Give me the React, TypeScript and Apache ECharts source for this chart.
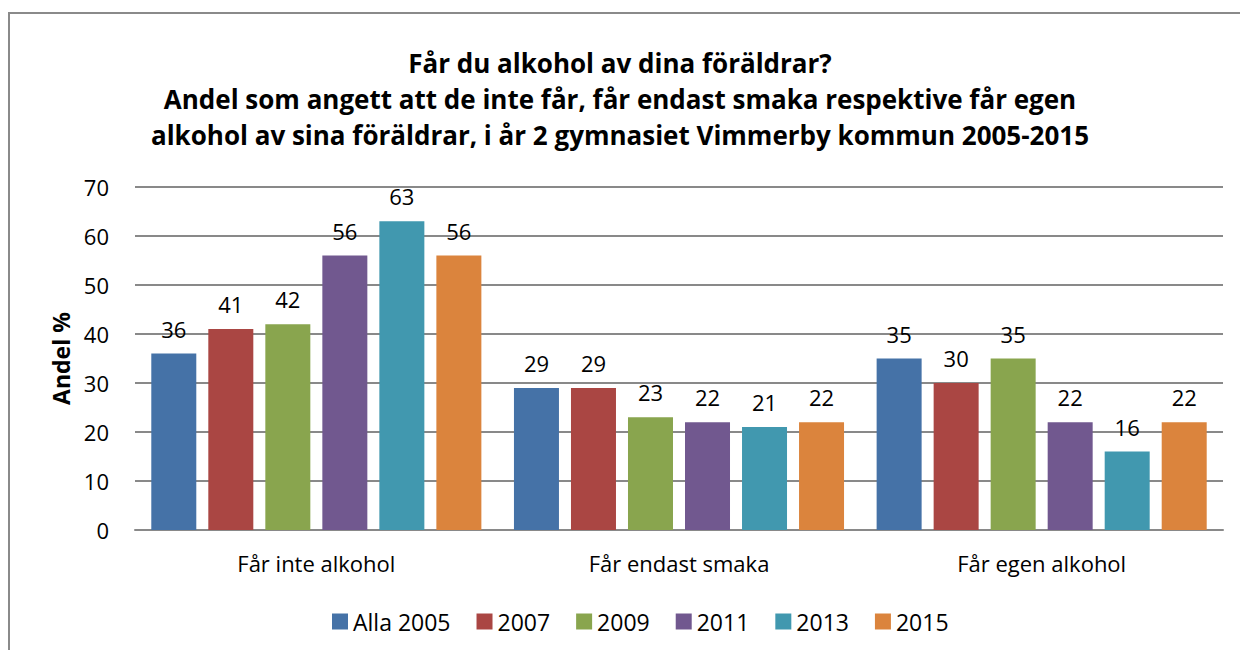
import React, { useEffect, useRef } from "react";
import * as echarts from "echarts";

const categories = ["Får inte alkohol", "Får endast smaka", "Får egen alkohol"];
const seriesNames = ["Alla 2005", "2007", "2009", "2011", "2013", "2015"];
const alla2005 = [36, 29, 35];
const y2007 = [41, 29, 30];
const y2009 = [42, 23, 35];
const y2011 = [56, 22, 22];
const y2013 = [63, 21, 16];
const y2015 = [56, 22, 22];
const colors = ["#4572A7", "#AA4643", "#89A54E", "#71588F", "#4198AF", "#DB843D"];
const yTicks = { min: 0, max: 70, interval: 10 };
const titleText =
  "Får du alkohol av dina föräldrar?\nAndel som angett att de inte får, får endast smaka respektive får egen\nalkohol av sina föräldrar, i år 2 gymnasiet Vimmerby kommun 2005-2015";

const FONT = "'Open Sans', 'Noto Sans', sans-serif";

export default function App() {
  const ref = useRef<HTMLDivElement>(null);
  useEffect(() => {
    document.body.style.margin = "0";
    const chart = echarts.init(ref.current!, null, { renderer: "svg" });
    const values = [alla2005, y2007, y2009, y2011, y2013, y2015];
    chart.setOption({
      animation: false,
      backgroundColor: "#ffffff",
      textStyle: { fontFamily: FONT },
      title: {
        text: titleText,
        left: "center",
        top: 40,
        textStyle: {
          fontFamily: FONT,
          fontSize: 26,
          fontWeight: "bold",
          lineHeight: 36,
          color: "#000",
        },
      },
      graphic: [
        {
          type: "polyline",
          shape: { points: [[9, 700], [9, 13], [1300, 13]] },
          style: { stroke: "#8a8a8a", lineWidth: 2, fill: "none" },
          silent: true,
        },
      ],
      legend: {
        top: 605,
        left: 327,
        itemWidth: 16,
        itemHeight: 16,
        itemGap: 26,
        icon: "rect",
        textStyle: { fontFamily: FONT, fontSize: 23, color: "#000" },
        data: seriesNames,
      },
      grid: { left: 135, right: 17, top: 187, bottom: 120 },
      xAxis: {
        type: "category",
        data: categories,
        axisLine: { lineStyle: { color: "#898989", width: 2 } },
        axisTick: { show: false },
        axisLabel: { fontFamily: FONT, fontSize: 22, color: "#000", margin: 22 },
      },
      yAxis: {
        type: "value",
        min: yTicks.min,
        max: yTicks.max,
        interval: yTicks.interval,
        name: "Andel %",
        nameLocation: "middle",
        nameGap: 61,
        nameRotate: 90,
        nameTextStyle: { fontFamily: FONT, fontSize: 23, fontWeight: "bold", color: "#000" },
        axisLine: { show: false },
        axisTick: { show: false },
        axisLabel: { fontFamily: FONT, fontSize: 22, color: "#000", margin: 26 },
        splitLine: { lineStyle: { color: "#898989", width: 2 } },
      },
      series: seriesNames.map((name, i) => ({
        name,
        type: "bar",
        data: values[i],
        barWidth: 45,
        barGap: "26.7%",
        itemStyle: { color: colors[i] },
        label: {
          show: true,
          position: "top",
          distance: 14,
          fontFamily: FONT,
          fontSize: 22,
          color: "#000",
        },
      })),
    });
    return () => chart.dispose();
  }, []);
  return <div ref={ref} style={{ width: 1240, height: 650 }} />;
}
